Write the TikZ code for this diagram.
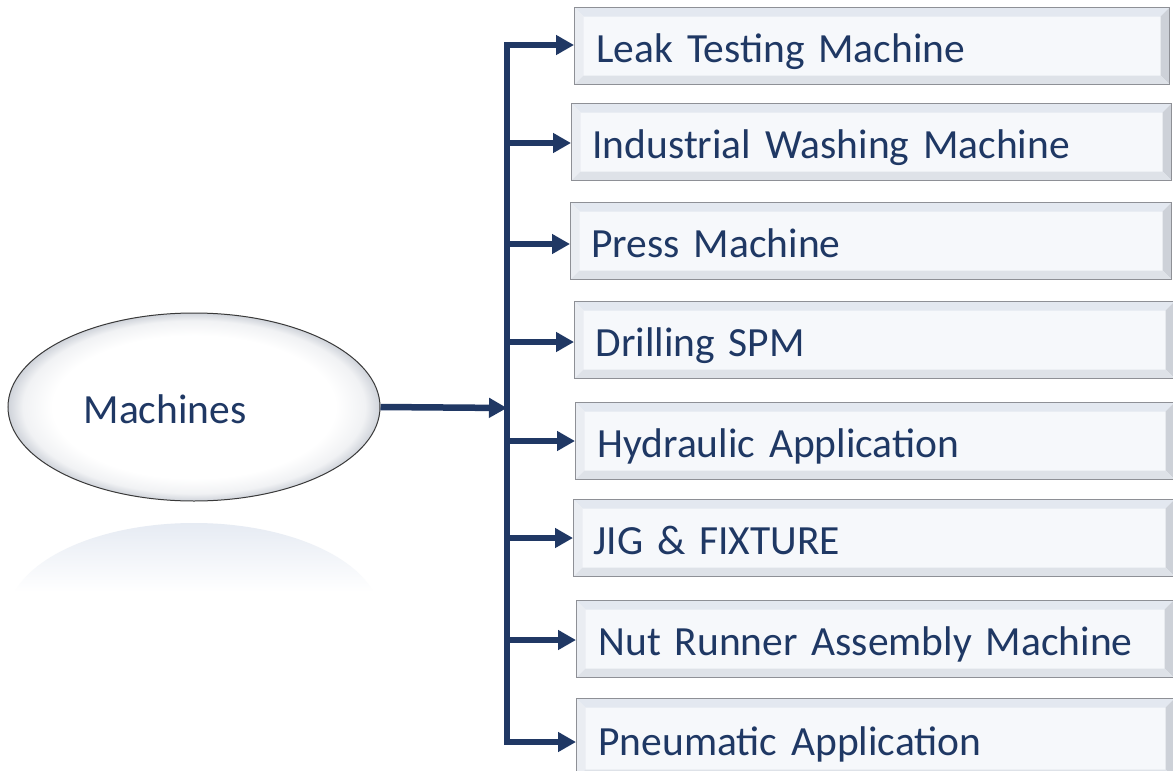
\documentclass[tikz,border=0pt]{standalone}
\usepackage{fontspec}
\setmainfont{Carlito}
\usetikzlibrary{shapes.geometric,arrows.meta}

\definecolor{navy}{HTML}{1F3864}
\definecolor{linkblue}{HTML}{203864}
\definecolor{boxedge}{HTML}{8E9096}
\definecolor{boxface}{HTML}{F6F8FB}
\definecolor{bevtop}{HTML}{E3E8F0}
\definecolor{bevleft}{HTML}{EAEDF2}
\definecolor{bevright}{HTML}{CDD1D8}
\definecolor{bevbot}{HTML}{DEE2E8}
\definecolor{glow}{HTML}{E6EBF3}
\definecolor{rim}{HTML}{CFD3DA}

% white lens with a grey rim near the outline
\pgfdeclareradialshading{lens}{\pgfpoint{0bp}{0bp}}{%
  color(0bp)=(white); color(19bp)=(white); color(23bp)=(white!70!rim);
  color(25bp)=(rim); color(50bp)=(rim)}

\tikzset{
  labeltext/.style={text=navy, font=\fontsize{41.5}{48}\selectfont,
    text height=33pt, text depth=0pt},
  machbox/.style={
    labeltext, draw=boxedge, line width=1pt, fill=boxface, inner ysep=0pt,
    align=left,
    path picture={
      \def\bv{9pt}
      \fill[bevtop] (path picture bounding box.north west) -- (path picture bounding box.north east)
        -- ([xshift=-\bv,yshift=-\bv]path picture bounding box.north east)
        -- ([xshift=\bv,yshift=-\bv]path picture bounding box.north west) -- cycle;
      \fill[bevleft] (path picture bounding box.north west) -- (path picture bounding box.south west)
        -- ([xshift=\bv,yshift=\bv]path picture bounding box.south west)
        -- ([xshift=\bv,yshift=-\bv]path picture bounding box.north west) -- cycle;
      \fill[bevright] (path picture bounding box.north east) -- (path picture bounding box.south east)
        -- ([xshift=-\bv,yshift=\bv]path picture bounding box.south east)
        -- ([xshift=-\bv,yshift=-\bv]path picture bounding box.north east) -- cycle;
      \fill[bevbot] (path picture bounding box.south west) -- (path picture bounding box.south east)
        -- ([xshift=-\bv,yshift=\bv]path picture bounding box.south east)
        -- ([xshift=\bv,yshift=\bv]path picture bounding box.south west) -- cycle;
    }},
  hub/.style={draw=gray!45!black, line width=1pt, shading=lens,
    shape=ellipse, inner sep=0pt},
  feed/.style={draw=linkblue, line width=6.5pt},
  branch/.style={feed, -{Triangle[length=18pt,width=19pt]}}
}

% name, left, top, right, bottom, text start, label
\newcommand\machbox[7]{%
  \pgfmathsetmacro\bxw{#4-#2}%
  \pgfmathsetmacro\bxh{#5-#3}%
  \pgfmathsetmacro\bxi{#6-#2}%
  \pgfmathsetmacro\bxt{#4-#2-2*(#6-#2)}%
  \node[machbox, anchor=north west, minimum width=\bxw pt, minimum height=\bxh pt,
        inner xsep=\bxi pt, text width=\bxt pt] (#1) at (#2,#3) {#7};
}

\begin{document}
\begin{tikzpicture}[x=1pt,y=-1pt]
\useasboundingbox (0,0) rectangle (1173,771);
\fill[white] (0,0) rectangle (1173,771);

% soft reflection under the hub
\begin{scope}
  \clip (194,617) ellipse [x radius=186, y radius=94];
  \shade[top color=glow, bottom color=white] (0,523) rectangle (400,592);
\end{scope}

% hub ellipse
\node[hub, minimum width=372pt, minimum height=188pt,
      label={[labeltext, inner sep=0pt, xshift=-29pt]center:Machines}]
      (machines) at (194,407) {};

% machine boxes
\machbox{leak}{574}{7}{1169}{84}{596}{Leak Testing Machine}
\machbox{wash}{571}{103}{1171}{180}{592}{Industrial Washing Machine}
\machbox{press}{570}{202}{1171}{279}{591}{Press Machine}
\machbox{drill}{574}{301}{1174}{378}{595}{Drilling SPM}
\machbox{hydr}{575}{402}{1174}{479}{597}{Hydraulic Application}
\machbox{jig}{573}{499}{1174}{576}{593}{JIG \& FIXTURE}
\machbox{nut}{576}{600}{1173}{677}{598}{Nut Runner Assembly Machine}
\machbox{pneu}{576}{698}{1174}{778}{598}{Pneumatic Application}

% distribution bar
\coordinate (bartop) at (507,45);
\coordinate (barbot) at (507,742);
\coordinate (barmid) at (507,408);
\draw[feed, line cap=rect] (bartop) -- (barbot);

% feed from the hub into the bar
\draw[branch] (machines.east) -- (barmid);

% branches to each box
\draw[branch] (bartop) -- (leak.west |- bartop);
\foreach \b/\y in {wash/143, press/244, drill/342, hydr/441, jig/538, nut/640}
  \draw[branch] (507,\y) -- (\b.west |- 0,\y);
\draw[branch] (barbot) -- (pneu.west |- barbot);
\end{tikzpicture}
\end{document}
